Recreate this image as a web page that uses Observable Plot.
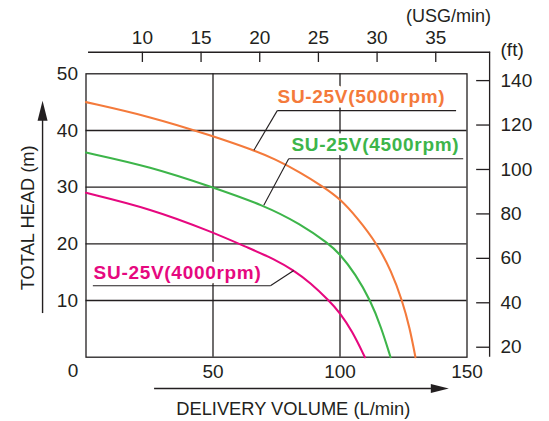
<!DOCTYPE html>
<html>
<head>
<meta charset="utf-8">
<script src="https://cdn.jsdelivr.net/npm/d3@7"></script>
<script src="https://cdn.jsdelivr.net/npm/@observablehq/plot@0.6"></script>
<style>
  html, body { margin: 0; padding: 0; background: #fff; }
  #chart { width: 549px; height: 421px; }
</style>
</head>
<body>
<div id="chart"></div>
<script>
// ---- data ----
const flow5000 = [0, 25.4, 49.7, 66.1, 74.2, 84.4, 93.6, 99.9, 106.8, 114.6, 120.2, 124.5, 127.5, 129.7];
const head5000 = [45.0, 42.45, 39.05, 36.5, 35.0, 32.6, 30.0, 28.0, 24.6, 20.0, 15.2, 10.0, 5.1, 0];
const flow4500 = [0, 25.4, 49.7, 70, 84.4, 95.6, 99.9, 106.1, 112.0, 116.2, 119.9];
const head4500 = [36.1, 33.6, 30.0, 26.8, 23.5, 20.0, 18.25, 14.65, 10.0, 5.3, 0];
const flow4000 = [0, 25.4, 49.7, 64.8, 74.2, 81.8, 88.4, 95.6, 99.9, 104.8, 109.8];
const head4000 = [29.0, 26.2, 22.1, 19.1, 17.3, 15.3, 13.1, 10.0, 7.9, 4.6, 0];

const seriesNames = ["SU-25V(5000rpm)", "SU-25V(4500rpm)", "SU-25V(4000rpm)"];
const seriesColors = ["#f47a3b", "#3db54a", "#e6087f"];

const xTicks = [50, 100, 150];
const yTicks = [10, 20, 30, 40, 50];
const gridX = [50, 100];
const gridY = [10, 20, 30, 40];
const usgTicks = [10, 15, 20, 25, 30, 35];
const ftTicks = [20, 40, 60, 80, 100, 120, 140];

// secondary-axis placement as drawn in the reference (in primary-axis units)
const usgToLpm = u => 22.2 + (u - 10) * 4.62;
const ftToM = f => 1.76 + (f - 20) * 0.392;

const ink = "#231f20";
const font = "'Liberation Sans', Arial, Helvetica, sans-serif";

const series = [[flow5000, head5000], [flow4500, head4500], [flow4000, head4000]].map(([fl, hd]) =>
  fl.map((q, j) => ({q, h: hd[j]}))
);

// label annotations (position in data units)
const labels = [
  {text: seriesNames[0], color: seriesColors[0], x: 75.4, y: 46.0, ux1: 75.3, ux2: 145.7, uy: 43.5, lx: 66.1, ly: 36.5, lstart: 75.3},
  {text: seriesNames[1], color: seriesColors[1], x: 80.9, y: 37.4, ux1: 79.8, ux2: 148.5, uy: 35.0, lx: 70.0, ly: 26.8, lstart: 79.8},
  {text: seriesNames[2], color: seriesColors[2], x: 3.0, y: 14.8, ux1: 2.7, ux2: 72.6, uy: 12.6, lx: 81.8, ly: 15.3, lstart: 72.6}
];

const upHead = {draw(ctx, size) { const r = Math.sqrt(size / Math.PI); ctx.moveTo(0, -r); ctx.lineTo(r / 2, r); ctx.lineTo(-r / 2, r); ctx.closePath(); }};
const rightHead = {draw(ctx, size) { const r = Math.sqrt(size / Math.PI); ctx.moveTo(r, 0); ctx.lineTo(-r, -r / 2); ctx.lineTo(-r, r / 2); ctx.closePath(); }};

const chart = Plot.plot({
  width: 549,
  height: 421,
  marginLeft: 85.5,
  marginRight: 82.5,
  marginTop: 73.3,
  marginBottom: 64.3,
  x: {domain: [0, 150], axis: null},
  y: {domain: [0, 50], axis: null},
  style: {fontFamily: font, background: "white", color: ink, overflow: "visible"},
  marks: [
    // grid
    Plot.ruleX(gridX, {stroke: ink, strokeWidth: 1.3}),
    Plot.ruleY(gridY, {stroke: ink, strokeWidth: 1.3}),
    Plot.frame({stroke: ink, strokeWidth: 1.3}),
    // curves
    ...series.map((s, i) => Plot.line(s, {x: "q", y: "h", stroke: seriesColors[i], strokeWidth: 2.1, curve: "basis"})),
    // series labels with white background
    Plot.text(labels, {x: "x", y: "y", text: "text", fill: "color", stroke: "white", strokeWidth: 9, textAnchor: "start", fontSize: 19, fontWeight: "bold"}),
    // underline + leader lines
    Plot.link(labels, {x1: "ux1", x2: "ux2", y1: "uy", y2: "uy", stroke: ink, strokeWidth: 1.1}),
    Plot.link(labels, {x1: "lstart", y1: "uy", x2: "lx", y2: "ly", stroke: ink, strokeWidth: 1.1}),
    // primary axis tick labels
    Plot.text(yTicks, {x: 0, y: d => d, dx: -8, textAnchor: "end", fontSize: 19, fill: ink}),
    Plot.text(xTicks, {x: d => d, y: 0, dy: 15, fontSize: 19, fill: ink}),
    Plot.text(["0"], {x: 0, y: 0, dx: -13, dy: 14, fontSize: 19, fill: ink}),
    // top secondary axis (USG/min)
    Plot.ruleY([53.8], {x1: 1.0, x2: 159.3, stroke: ink, strokeWidth: 1.3}),
    Plot.ruleX(usgTicks, {x: usgToLpm, y1: 53.8, y2: 52.0, stroke: ink, strokeWidth: 1.3}),
    Plot.text(usgTicks, {x: usgToLpm, y: 56.4, text: d => String(d), fontSize: 19, fill: ink}),
    Plot.text(["(USG/min)"], {x: 142.7, y: 60.1, fontSize: 18, fill: ink}),
    // right secondary axis (ft)
    Plot.ruleX([158.9], {y1: 0, y2: 53.8, stroke: ink, strokeWidth: 1.3}),
    Plot.ruleY(ftTicks, {y: ftToM, x1: 153.8, x2: 158.9, stroke: ink, strokeWidth: 1.3}),
    Plot.text(ftTicks, {x: 163.2, y: ftToM, text: d => String(d), textAnchor: "start", fontSize: 19, fill: ink}),
    Plot.text(["(ft)"], {x: 163.2, y: 54.3, textAnchor: "start", fontSize: 19, fill: ink}),
    // axis titles with arrows
    Plot.ruleX([-17.1], {y1: 7.7, y2: 42, stroke: ink, strokeWidth: 1.4}),
    Plot.dot([0], {x: -17.1, y: 43.5, r: 10, symbol: upHead, fill: ink, stroke: null}),
    Plot.text(["TOTAL HEAD (m)"], {x: -22.8, y: 24.6, rotate: -90, fontSize: 18.3, fill: ink}),
    Plot.ruleY([-5.52], {x1: 27.0, x2: 136, stroke: ink, strokeWidth: 1.4}),
    Plot.dot([0], {x: 139.3, y: -5.52, r: 9, symbol: rightHead, fill: ink, stroke: null}),
    Plot.text(["DELIVERY VOLUME (L/min)"], {x: 81.6, y: -9.1, fontSize: 18.3, fill: ink})
  ]
});
// widen the series labels slightly to match the reference lettering
d3.select(chart).selectAll("text").filter(function() { return seriesNames.includes(this.textContent); })
  .style("letter-spacing", "0.7px");
document.getElementById("chart").appendChild(chart);
</script>
</body>
</html>
